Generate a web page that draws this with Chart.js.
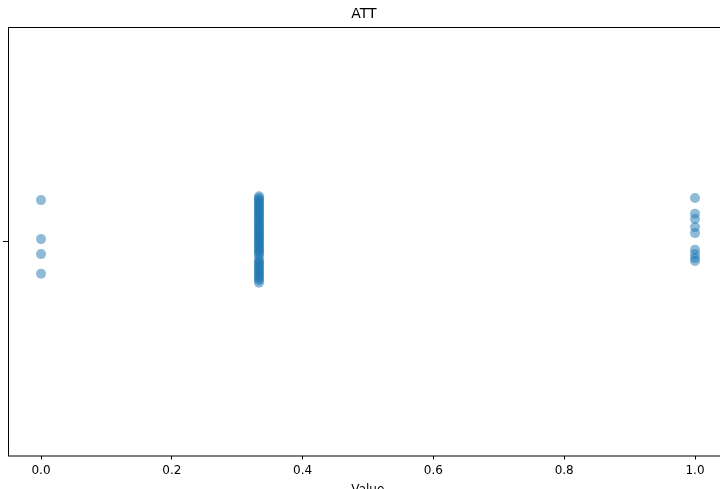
<!DOCTYPE html>
<html>
<head>
<meta charset="utf-8">
<script src="https://cdn.jsdelivr.net/npm/chart.js@4/dist/chart.umd.min.js"></script>
<style>
  html, body { margin: 0; padding: 0; background: #fff; overflow: hidden; }
  #wrap { width: 740px; height: 489px; }
</style>
</head>
<body>
<div id="wrap"><canvas id="stripChart" width="740" height="489"></canvas></div>
<script>
// ATT values and the jitter offset of each point inside the single category
const attLevels = [0, 0.3333, 1];
const jitterAtZero = [-0.096, -0.005, 0.030, 0.076];
const jitterAtThird = [
    -0.105, -0.101, -0.097, -0.094, -0.090, -0.086, -0.083, -0.079, -0.075, -0.071,
    -0.068, -0.064, -0.060, -0.057, -0.053, -0.049, -0.046, -0.042, -0.038, -0.034,
    -0.031, -0.027, -0.023, -0.020, -0.016, -0.012, -0.009, -0.005, -0.001, 0.003,
    0.006, 0.010, 0.014, 0.018, 0.021, 0.025, 0.029, 0.034, 0.043, 0.047,
    0.051, 0.055, 0.059, 0.063, 0.067, 0.071, 0.075, 0.079, 0.083, 0.087,
    0.091, 0.097
];
const jitterAtOne = [-0.101, -0.064, -0.052, -0.033, -0.019, 0.020, 0.030, 0.039, 0.046];
const xTickValues = [0, 0.2, 0.4, 0.6, 0.8, 1.0];

function toPoints(x, jitter) {
    return jitter.map(j => ({ x: x, y: j }));
}

const points = [
    ...toPoints(attLevels[0], jitterAtZero),
    ...toPoints(attLevels[1], jitterAtThird),
    ...toPoints(attLevels[2], jitterAtOne)
];

// frame around the plot area like matplotlib's spines
const frame = {
    id: 'frame',
    afterDraw(chart) {
        const a = chart.chartArea;
        const ctx = chart.ctx;
        ctx.save();
        ctx.strokeStyle = '#000';
        ctx.lineWidth = 1;
        ctx.strokeRect(a.left + 0.5, a.top + 0.5, a.right - a.left, a.bottom - a.top);
        ctx.restore();
    }
};

Chart.defaults.font.family = '"DejaVu Sans", sans-serif';
Chart.defaults.color = '#000';

new Chart(document.getElementById('stripChart').getContext('2d'), {
    type: 'scatter',
    data: {
        datasets: [{
            label: 'ATT',
            data: points,
            backgroundColor: 'rgba(31, 119, 180, 0.5)',
            borderWidth: 0,
            pointRadius: 5,
            pointHoverRadius: 5
        }]
    },
    options: {
        responsive: false,
        animation: false,
        layout: { padding: { left: 0, right: 12.3, top: 0, bottom: 0 } },
        plugins: {
            legend: { display: false },
            tooltip: { enabled: false },
            title: {
                display: true,
                text: 'ATT',
                font: { size: 14, weight: 'normal' },
                color: '#000',
                padding: { top: 6, bottom: 4.2 }
            }
        },
        scales: {
            x: {
                type: 'linear',
                min: -0.0505,
                max: 1.05,
                afterBuildTicks: s => { s.ticks = xTickValues.map(v => ({ value: v })); },
                afterFit: s => { s.height = 33.5; },
                ticks: {
                    font: { size: 12 },
                    padding: 4,
                    maxRotation: 0,
                    callback: v => Number(v).toFixed(1)
                },
                grid: { drawOnChartArea: false, drawTicks: true, tickLength: 4, color: '#000' },
                border: { display: false },
                title: {
                    display: true,
                    text: 'Value',
                    font: { size: 12 },
                    padding: { top: 0, bottom: -8.2 }
                }
            },
            y: {
                type: 'linear',
                min: -0.5,
                max: 0.5,
                reverse: true,
                afterBuildTicks: s => { s.ticks = [{ value: 0 }]; },
                afterFit: s => { s.width = 8; },
                ticks: { callback: () => '', padding: 0 },
                grid: { drawOnChartArea: false, drawTicks: true, tickLength: 5, color: '#000' },
                border: { display: false }
            }
        }
    },
    plugins: [frame]
});
</script>
</body>
</html>
